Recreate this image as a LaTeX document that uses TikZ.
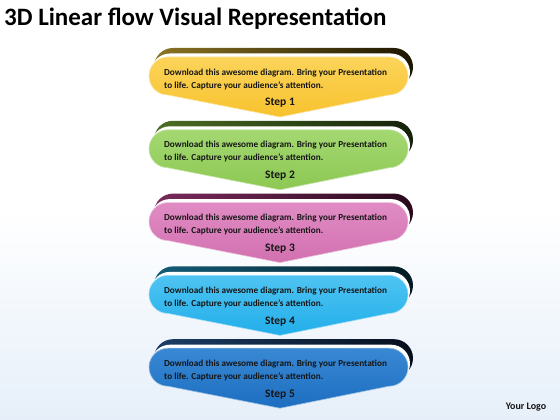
\documentclass[tikz,border=0pt]{standalone}
\usepackage{fontspec}
\setmainfont{Carlito}
\definecolor{bgb}{HTML}{E6EFF9}
\definecolor{txt}{HTML}{151515}
\definecolor{yelF}{HTML}{F8C22E}\definecolor{yelT}{HTML}{FBD45A}
\definecolor{yelL}{HTML}{8C7424}\definecolor{yelD}{HTML}{1C1500}
\definecolor{grnF}{HTML}{8CC852}\definecolor{grnT}{HTML}{A4D872}
\definecolor{grnL}{HTML}{4C6E22}\definecolor{grnD}{HTML}{14220A}
\definecolor{pnkF}{HTML}{D270B0}\definecolor{pnkT}{HTML}{E08CC4}
\definecolor{pnkL}{HTML}{7A2A5C}\definecolor{pnkD}{HTML}{2A0A1C}
\definecolor{cynF}{HTML}{22AEEA}\definecolor{cynT}{HTML}{4EC4F2}
\definecolor{cynL}{HTML}{145C78}\definecolor{cynD}{HTML}{041A24}
\definecolor{bluF}{HTML}{1D6EC0}\definecolor{bluT}{HTML}{3888D4}
\definecolor{bluL}{HTML}{1C3E66}\definecolor{bluD}{HTML}{060E1C}
\tikzset{
  bodytext/.style={anchor=west, align=left, text=txt, font=\fontsize{9.2}{13}\selectfont\bfseries, inner sep=0pt},
  steplabel/.style={text=txt, font=\fontsize{11.5}{14}\selectfont\bfseries, inner sep=0pt},
}
\newcommand{\bannerpath}{(168,363) -- (389,363) arc[start angle=90,end angle=-90,radius=19] -- (280,303) -- (168,325) arc[start angle=270,end angle=90,radius=19] -- cycle}
\begin{document}
\begin{tikzpicture}[x=1pt,y=1pt]
\useasboundingbox (0,0) rectangle (560,420);
\shade[top color=white, bottom color=bgb, middle color=white] (0,0) rectangle (560,420);
\node[anchor=west, text=black, font=\fontsize{25}{29}\selectfont\bfseries, inner sep=0pt] (title) at (4,401) {3D Linear flow Visual Representation};
\foreach \i/\c/\n in {0/yel/1,1/grn/2,2/pnk/3,3/cyn/4,4/blu/5}{
  \begin{scope}[yshift={-72.8*\i}]
    \shade[left color=\c L, right color=\c D, shift={(5,9)}] \bannerpath;
    \fill[white, shift={(2,3.5)}] \bannerpath;
    \shade[top color=\c T, bottom color=\c F, draw=white!55!\c F, line width=0.6pt] \bannerpath;
    \node[bodytext] (t\n) at (164,341) {Download this awesome diagram. Bring your Presentation\\to life. Capture your audience’s attention.};
    \node[steplabel] (s\n) at (280,317) {Step \n};
  \end{scope}
}
\node[text=txt, font=\fontsize{10}{12}\selectfont\bfseries, inner sep=0pt] (logo) at (526,13) {Your Logo};
\end{tikzpicture}
\end{document}
